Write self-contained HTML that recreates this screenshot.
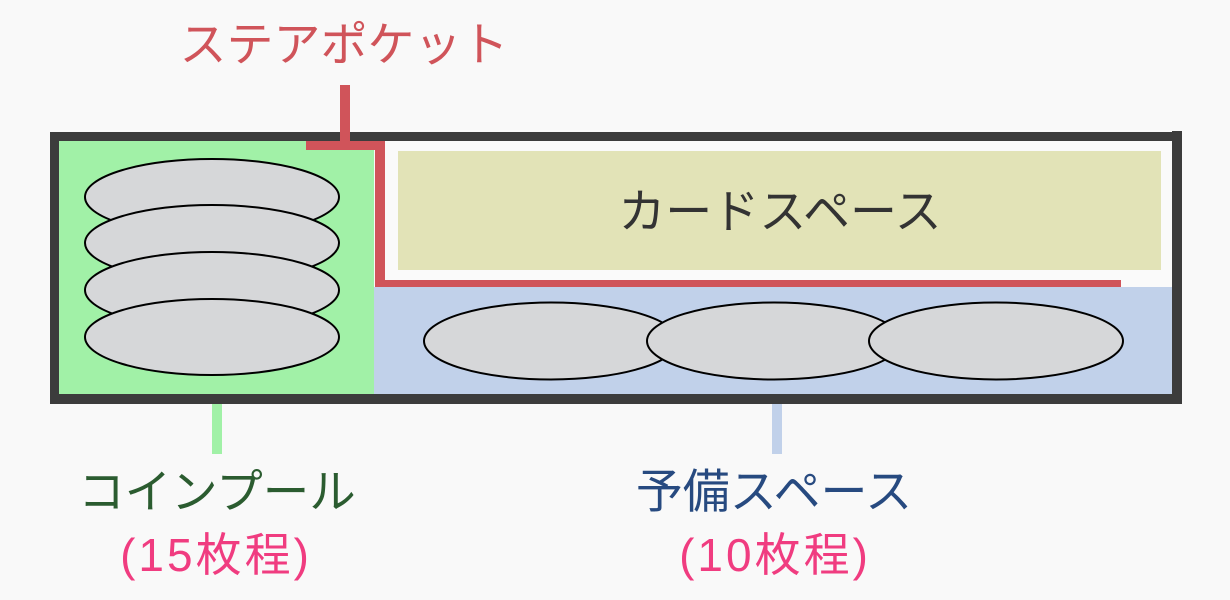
<!DOCTYPE html>
<html><head><meta charset="utf-8"><style>
html,body{margin:0;padding:0;background:#f9f9f9;}
svg{display:block;}
text{font-family:"Liberation Sans","Noto Sans CJK JP",sans-serif;}
</style></head><body>
<svg width="1230" height="600" viewBox="0 0 1230 600" xmlns="http://www.w3.org/2000/svg">
<rect x="0" y="0" width="1230" height="600" fill="#f9f9f9"/>
<!-- fills -->
<rect x="59" y="141" width="315" height="253" fill="#a1f1a7"/>
<rect x="374" y="287" width="798" height="107" fill="#c1d1ea"/>
<rect x="385" y="141" width="787" height="146" fill="#fafafa"/>
<rect x="398" y="151" width="763" height="119" fill="#e2e3b7"/>
<!-- connectors below -->
<rect x="212" y="400" width="10" height="54" fill="#a1f1a7"/>
<rect x="772" y="400" width="10" height="54" fill="#c1d1ea"/>
<!-- ellipses -->
<g fill="#d6d7d9" stroke="#000" stroke-width="2">
<ellipse cx="212" cy="197" rx="127" ry="38"/>
<ellipse cx="212" cy="243" rx="127" ry="38"/>
<ellipse cx="212" cy="290" rx="127" ry="38"/>
<ellipse cx="212" cy="337" rx="127" ry="38"/>
<ellipse cx="551" cy="341" rx="127" ry="38.5"/>
<ellipse cx="774" cy="341" rx="127" ry="38.5"/>
<ellipse cx="996" cy="341" rx="127" ry="38.5"/>
</g>
<!-- outer border -->
<g fill="#3c3c3c">
<rect x="50" y="132" width="1132" height="9"/>
<rect x="50" y="394" width="1132" height="10"/>
<rect x="50" y="132" width="9" height="272"/>
<rect x="1172" y="131" width="10" height="273"/>
</g>
<!-- red pocket line -->
<g fill="#d0545a">
<rect x="340" y="85" width="10" height="65"/>
<rect x="306" y="141" width="79" height="9"/>
<rect x="375" y="141" width="10" height="146"/>
<rect x="375" y="280" width="746" height="7"/>
</g>
<!-- labels -->
<text x="344" y="61" font-size="47" fill="#d0545a" text-anchor="middle">ステアポケット</text>
<text x="780" y="228" font-size="47" fill="#333333" text-anchor="middle">カードスペース</text>
<text x="217" y="508" font-size="46.5" fill="#2b5c30" text-anchor="middle">コインプール</text>
<text x="216" y="571" font-size="46" fill="#f03c80" text-anchor="middle" letter-spacing="3">(15枚程)</text>
<text x="774" y="508" font-size="47" fill="#274a80" text-anchor="middle">予備スペース</text>
<text x="775" y="571" font-size="46" fill="#f03c80" text-anchor="middle" letter-spacing="3">(10枚程)</text>
</svg>
</body></html>
